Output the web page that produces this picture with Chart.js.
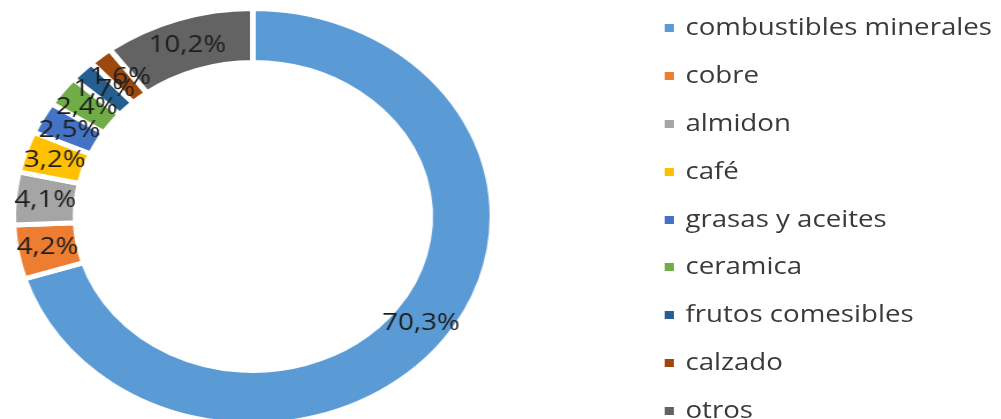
<!DOCTYPE html>
<html>
<head>
<meta charset="utf-8">
<script src="https://cdn.jsdelivr.net/npm/chart.js@4"></script>
<style>
  html, body { margin: 0; padding: 0; background: #fff; overflow: hidden; width: 1001px; height: 419px; }
  /* the source picture is stretched sideways, so the whole stage is too */
  #stage { position: absolute; left: 0; top: 0; width: 869px; height: 433px; transform: scaleX(1.152); transform-origin: 0 0; }
  #pie { position: absolute; left: 0; top: 0; width: 439px; height: 433px; }
  #legend { position: absolute; left: 577px; top: 2px; font-family: "Open Sans", sans-serif; font-size: 24px; color: #3a3a3a; }
  #legend .item { height: 47.8px; display: flex; align-items: center; white-space: nowrap; }
  #legend .box { width: 8px; height: 8px; margin-right: 10px; margin-top: 5px; }
</style>
</head>
<body>
<div id="stage">
  <div id="pie"><canvas id="myChart"></canvas></div>
  <div id="legend"></div>
</div>
<script>
var labels = ['combustibles minerales', 'cobre', 'almidon', 'café', 'grasas y aceites', 'ceramica', 'frutos comesibles', 'calzado', 'otros'];
var shares = [70.3, 4.2, 4.1, 3.2, 2.5, 2.4, 1.7, 1.6, 10.2];
var colors = ['#5B9BD5', '#ED7D31', '#A5A5A5', '#FFC000', '#4472C4', '#70AD47', '#255E91', '#9E480E', '#636363'];

var pctLabels = {
  id: 'pctLabels',
  afterDatasetsDraw: function (chart) {
    var ctx = chart.ctx;
    var meta = chart.getDatasetMeta(0);
    ctx.save();
    ctx.font = '24px "Open Sans"';
    ctx.fillStyle = '#1e1e1e';
    ctx.textAlign = 'center';
    ctx.textBaseline = 'middle';
    meta.data.forEach(function (arc, i) {
      var p = arc.getCenterPoint();
      ctx.fillText(shares[i].toFixed(1).replace('.', ',') + '%', p.x, p.y);
    });
    ctx.restore();
  }
};

var myChart = new Chart(document.getElementById('myChart'), {
  type: 'doughnut',
  data: {
    labels: labels,
    datasets: [{
      data: shares,
      backgroundColor: colors,
      borderColor: '#fff',
      borderWidth: 5
    }]
  },
  options: {
    responsive: true,
    maintainAspectRatio: false,
    animation: false,
    radius: 208,
    cutout: '74%',
    plugins: {
      legend: { display: false },
      tooltip: { enabled: false }
    }
  },
  plugins: [pctLabels]
});

var legend = document.getElementById('legend');
labels.forEach(function (name, i) {
  var item = document.createElement('div');
  item.className = 'item';
  var box = document.createElement('span');
  box.className = 'box';
  box.style.background = colors[i];
  var txt = document.createElement('span');
  txt.textContent = name;
  item.appendChild(box);
  item.appendChild(txt);
  legend.appendChild(item);
});
</script>
</body>
</html>
